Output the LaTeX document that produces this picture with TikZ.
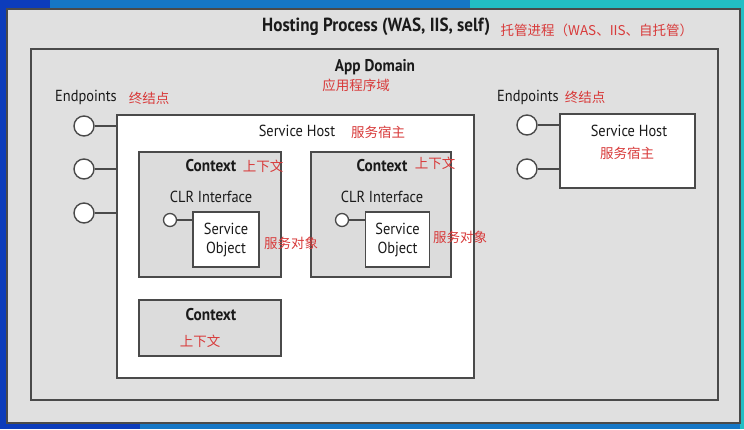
\documentclass[tikz,border=0pt]{standalone}
\usepackage{fontspec}
\setmainfont{PT Sans}[FakeStretch=0.9]
\newfontfamily\cjk{Noto Sans CJK SC}
\usetikzlibrary{calc}
\definecolor{bgblue}{HTML}{1577C6}
\definecolor{bgdark}{HTML}{0C3CBB}
\definecolor{bgteal}{HTML}{22BEC4}
\definecolor{panel}{HTML}{E0E0E0}
\definecolor{ctxgray}{HTML}{DCDCDC}
\definecolor{edge}{HTML}{4A4A4A}
\definecolor{cnred}{HTML}{D83A3A}
\definecolor{txt}{HTML}{1A1A1A}
\tikzset{
  box/.style={draw=edge, line width=1.4pt, rectangle, inner sep=0pt},
  graybox/.style={box, fill=panel},
  ctxbox/.style={box, fill=ctxgray},
  whitebox/.style={box, fill=white},
  port/.style={draw=edge, line width=1.4pt, circle, fill=white, inner sep=0pt, minimum size=20pt},
  smallport/.style={draw=edge, line width=1.3pt, circle, fill=white, inner sep=0pt, minimum size=13pt},
  wire/.style={draw=edge, line width=1.3pt},
  lbl/.style={inner sep=0pt, text=txt, font=\fontsize{16}{18}\selectfont},
  blbl/.style={inner sep=0pt, text=txt, font=\fontsize{17}{19}\selectfont\bfseries},
  cn/.style={inner sep=0pt, text=cnred, font=\cjk\fontsize{13.5}{15}\selectfont},
}
\begin{document}
\begin{tikzpicture}[x=1pt,y=-1pt]
\useasboundingbox (0,0) rectangle (744,429);
% background
\fill[bgblue] (0,0) rectangle (744,429);
\fill[bgdark] (0,0) rectangle (50,429);
\fill[bgdark] (0,423) rectangle (140,429);
\fill[bgteal] (470,0) rectangle (744,9);
\fill[bgteal] (740,0) rectangle (744,429);
% boxes
\node[graybox, minimum width=733pt, minimum height=414pt] (host) at (373.5,216) {};
\node[graybox, minimum width=687pt, minimum height=351pt] (appdom) at (374.5,224.5) {};
\node[whitebox, minimum width=357pt, minimum height=263pt] (sh) at (295.5,246.5) {};
\node[ctxbox, minimum width=142pt, minimum height=125pt] (ctxa) at (210,214.5) {};
\node[ctxbox, minimum width=140pt, minimum height=125pt] (ctxb) at (381,214.5) {};
\node[ctxbox, minimum width=142pt, minimum height=56pt] (ctxc) at (210,328) {};
\node[whitebox, minimum width=66pt, minimum height=55pt, align=center, text=txt, font=\fontsize{16}{19}\selectfont] (soa) at (226,239.5) {Service\\Object};
\node[whitebox, minimum width=64pt, minimum height=55pt, align=center, text=txt, font=\fontsize{16}{19}\selectfont] (sob) at (397.5,239.5) {Service\\Object};
\node[whitebox, minimum width=135pt, minimum height=74pt] (shr) at (627.5,151) {};
% endpoints left
\node[port] (epa) at (84,126) {};
\node[port] (epb) at (84,169) {};
\node[port] (epc) at (84,213) {};
\draw[wire] (epa) -- (epa -| sh.west);
\draw[wire] (epb) -- (epb -| sh.west);
\draw[wire] (epc) -- (epc -| sh.west);
% endpoints right
\node[port] (epd) at (527,125) {};
\node[port] (epe) at (527,169) {};
\draw[wire] (epd) -- (epd -| shr.west);
\draw[wire] (epe) -- (epe -| shr.west);
% CLR interfaces
\node[smallport] (clra) at (170,220) {};
\node[smallport] (clrb) at (342,220) {};
\draw[wire] (clra) -- (clra -| soa.west);
\draw[wire] (clrb) -- (clrb -| sob.west);
% texts
\node[blbl, anchor=west, font=\fontsize{19}{21}\selectfont\bfseries] (title) at (262,27) {Hosting Process (WAS, IIS, self)};
\node[cn, anchor=west] (titlecn) at ([xshift=10pt,yshift=-3pt]title.east) {托管进程（WAS、IIS、自托管）};
\node[blbl] (adt) at (375,67) {App Domain};
\node[cn] (adcn) at (356,85) {应用程序域};
\node[lbl] (ept) at (86,97) {Endpoints};
\node[cn] (epcn) at (149,98) {终结点};
\node[lbl] (sht) at (297,131) {Service Host};
\node[cn] (shcn) at (378,132) {服务宿主};
\node[blbl] (cat) at (211,166) {Context};
\node[cn] (cacn) at (263,166) {上下文};
\node[lbl] (clrat) at (211,197) {CLR Interface};
\node[cn] (soacn) at (291,243) {服务对象};
\node[blbl] (cbt) at (382,166) {Context};
\node[cn] (cbcn) at (435,163) {上下文};
\node[lbl] (clrbt) at (382,197) {CLR Interface};
\node[cn] (sobcn) at (460,237) {服务对象};
\node[blbl] (cct) at (211,315) {Context};
\node[cn] (cccn) at (200,341) {上下文};
\node[lbl] (eprt) at (528,97) {Endpoints};
\node[cn] (eprcn) at (585,97) {终结点};
\node[lbl] (shrt) at (629,131) {Service Host};
\node[cn] (shrcn) at (627,153) {服务宿主};
\end{tikzpicture}
\end{document}
